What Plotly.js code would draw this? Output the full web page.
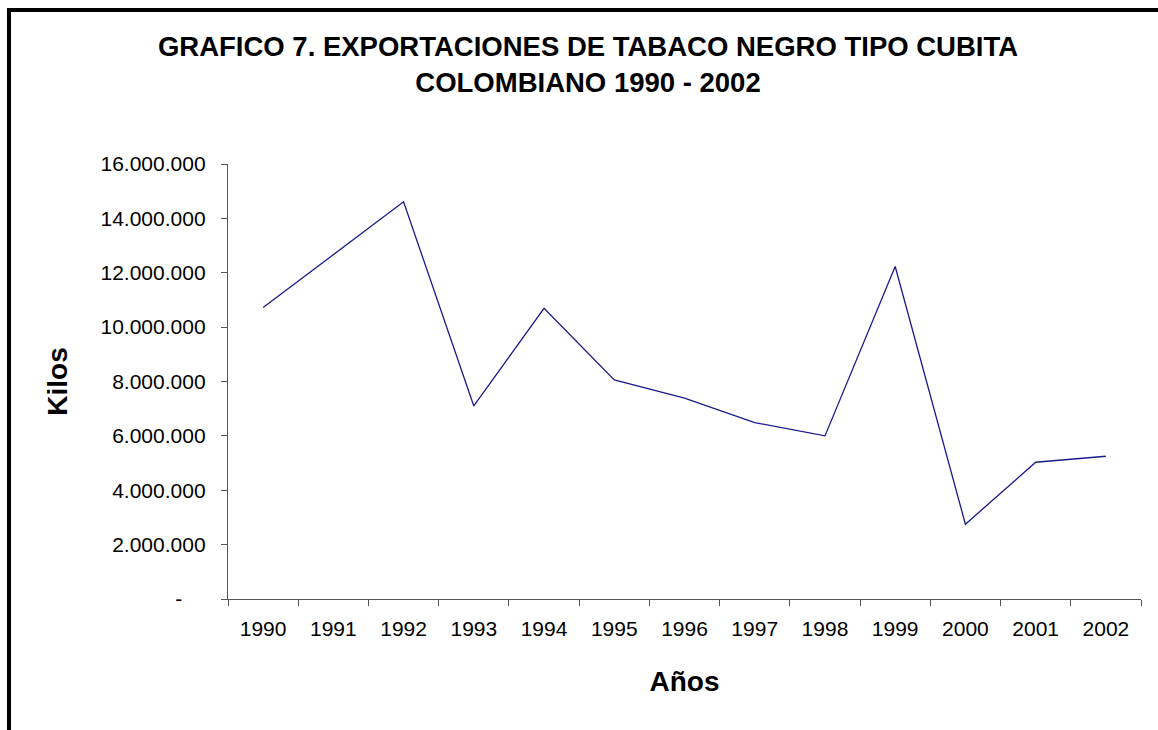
<!DOCTYPE html>
<html>
<head>
<meta charset="utf-8">
<script src="https://cdn.plot.ly/plotly-3.0.1.min.js"></script>
<style>
  html, body { margin: 0; padding: 0; background: #ffffff; overflow: hidden; }
  #wrap { position: relative; width: 1158px; height: 730px; overflow: hidden; }
  #chart { position: absolute; left: 0; top: 0; width: 1158px; height: 730px; z-index: 1; }
  .edge { position: absolute; background: #000000; z-index: 10; pointer-events: none; }
  #edgeTop { left: 7px; top: 8px; width: 1151px; height: 4px; }
  #edgeLeft { left: 7px; top: 8px; width: 4px; height: 722px; }
</style>
</head>
<body>
<div id="wrap">
  <div id="chart"></div>
  <div class="edge" id="edgeTop"></div>
  <div class="edge" id="edgeLeft"></div>
</div>
<script>
// Categories (years)
const years = ['1990','1991','1992','1993','1994','1995','1996','1997','1998','1999','2000','2001','2002'];
// Exports in kilos
const kilos = [10720000, 12670000, 14610000, 7100000, 10690000, 8060000, 7390000, 6490000, 6000000, 12230000, 2750000, 5030000, 5250000];
// Y tick values and labels
const yTickVals = [0, 2000000, 4000000, 6000000, 8000000, 10000000, 12000000, 14000000, 16000000];
const yTickText = ['-\u00a0\u00a0\u00a0\u00a0', '2.000.000', '4.000.000', '6.000.000', '8.000.000', '10.000.000', '12.000.000', '14.000.000', '16.000.000'];

const titleText = 'GRAFICO 7. EXPORTACIONES DE TABACO NEGRO TIPO CUBITA<br>COLOMBIANO 1990 - 2002';

const trace = {
  type: 'scatter',
  mode: 'lines',
  x: years,
  y: kilos,
  line: { color: '#1a1a8c', width: 1.3 },
  hoverinfo: 'x+y'
};

const fontFam = 'Liberation Sans, Arial, sans-serif';

const layout = {
  width: 1158,
  height: 730,
  paper_bgcolor: 'rgba(0,0,0,0)',
  plot_bgcolor: 'rgba(0,0,0,0)',
  showlegend: false,
  margin: { l: 227.5, r: 17, t: 164, b: 131, pad: 0 },
  font: { family: fontFam, color: '#000000', size: 21 },
  title: {
    text: titleText,
    font: { family: fontFam, size: 27.5, color: '#000000', weight: 'bold' },
    x: 588 / 1158,
    xanchor: 'center',
    xref: 'container',
    y: 1 - 56 / 730,
    yanchor: 'top',
    yref: 'container'
  },
  xaxis: {
    type: 'category',
    range: [-0.5, 12.5],
    tickson: 'boundaries',
    ticks: 'outside',
    ticklen: 6,
    tickwidth: 1,
    tickcolor: '#555555',
    showline: true,
    linecolor: '#555555',
    linewidth: 1.2,
    showgrid: false,
    zeroline: false,
    tickfont: { family: fontFam, size: 21, color: '#000000' },
    ticklabelstandoff: 11,
    fixedrange: true,
    title: {
      text: 'Años',
      font: { family: fontFam, size: 28, color: '#000000', weight: 'bold' },
      standoff: 32
    }
  },
  yaxis: {
    range: [0, 16000000],
    tickvals: yTickVals,
    ticktext: yTickText,
    ticks: 'outside',
    ticklen: 6,
    tickwidth: 1,
    tickcolor: '#555555',
    showline: true,
    linecolor: '#555555',
    linewidth: 1.2,
    showgrid: false,
    zeroline: false,
    tickfont: { family: fontFam, size: 21, color: '#000000' },
    ticklabelstandoff: 11,
    fixedrange: true,
    title: {
      text: 'Kilos',
      font: { family: fontFam, size: 28, color: '#000000', weight: 'bold' },
      standoff: 24
    }
  }
};

Plotly.newPlot('chart', [trace], layout, { displayModeBar: false, staticPlot: true });
</script>
</body>
</html>
